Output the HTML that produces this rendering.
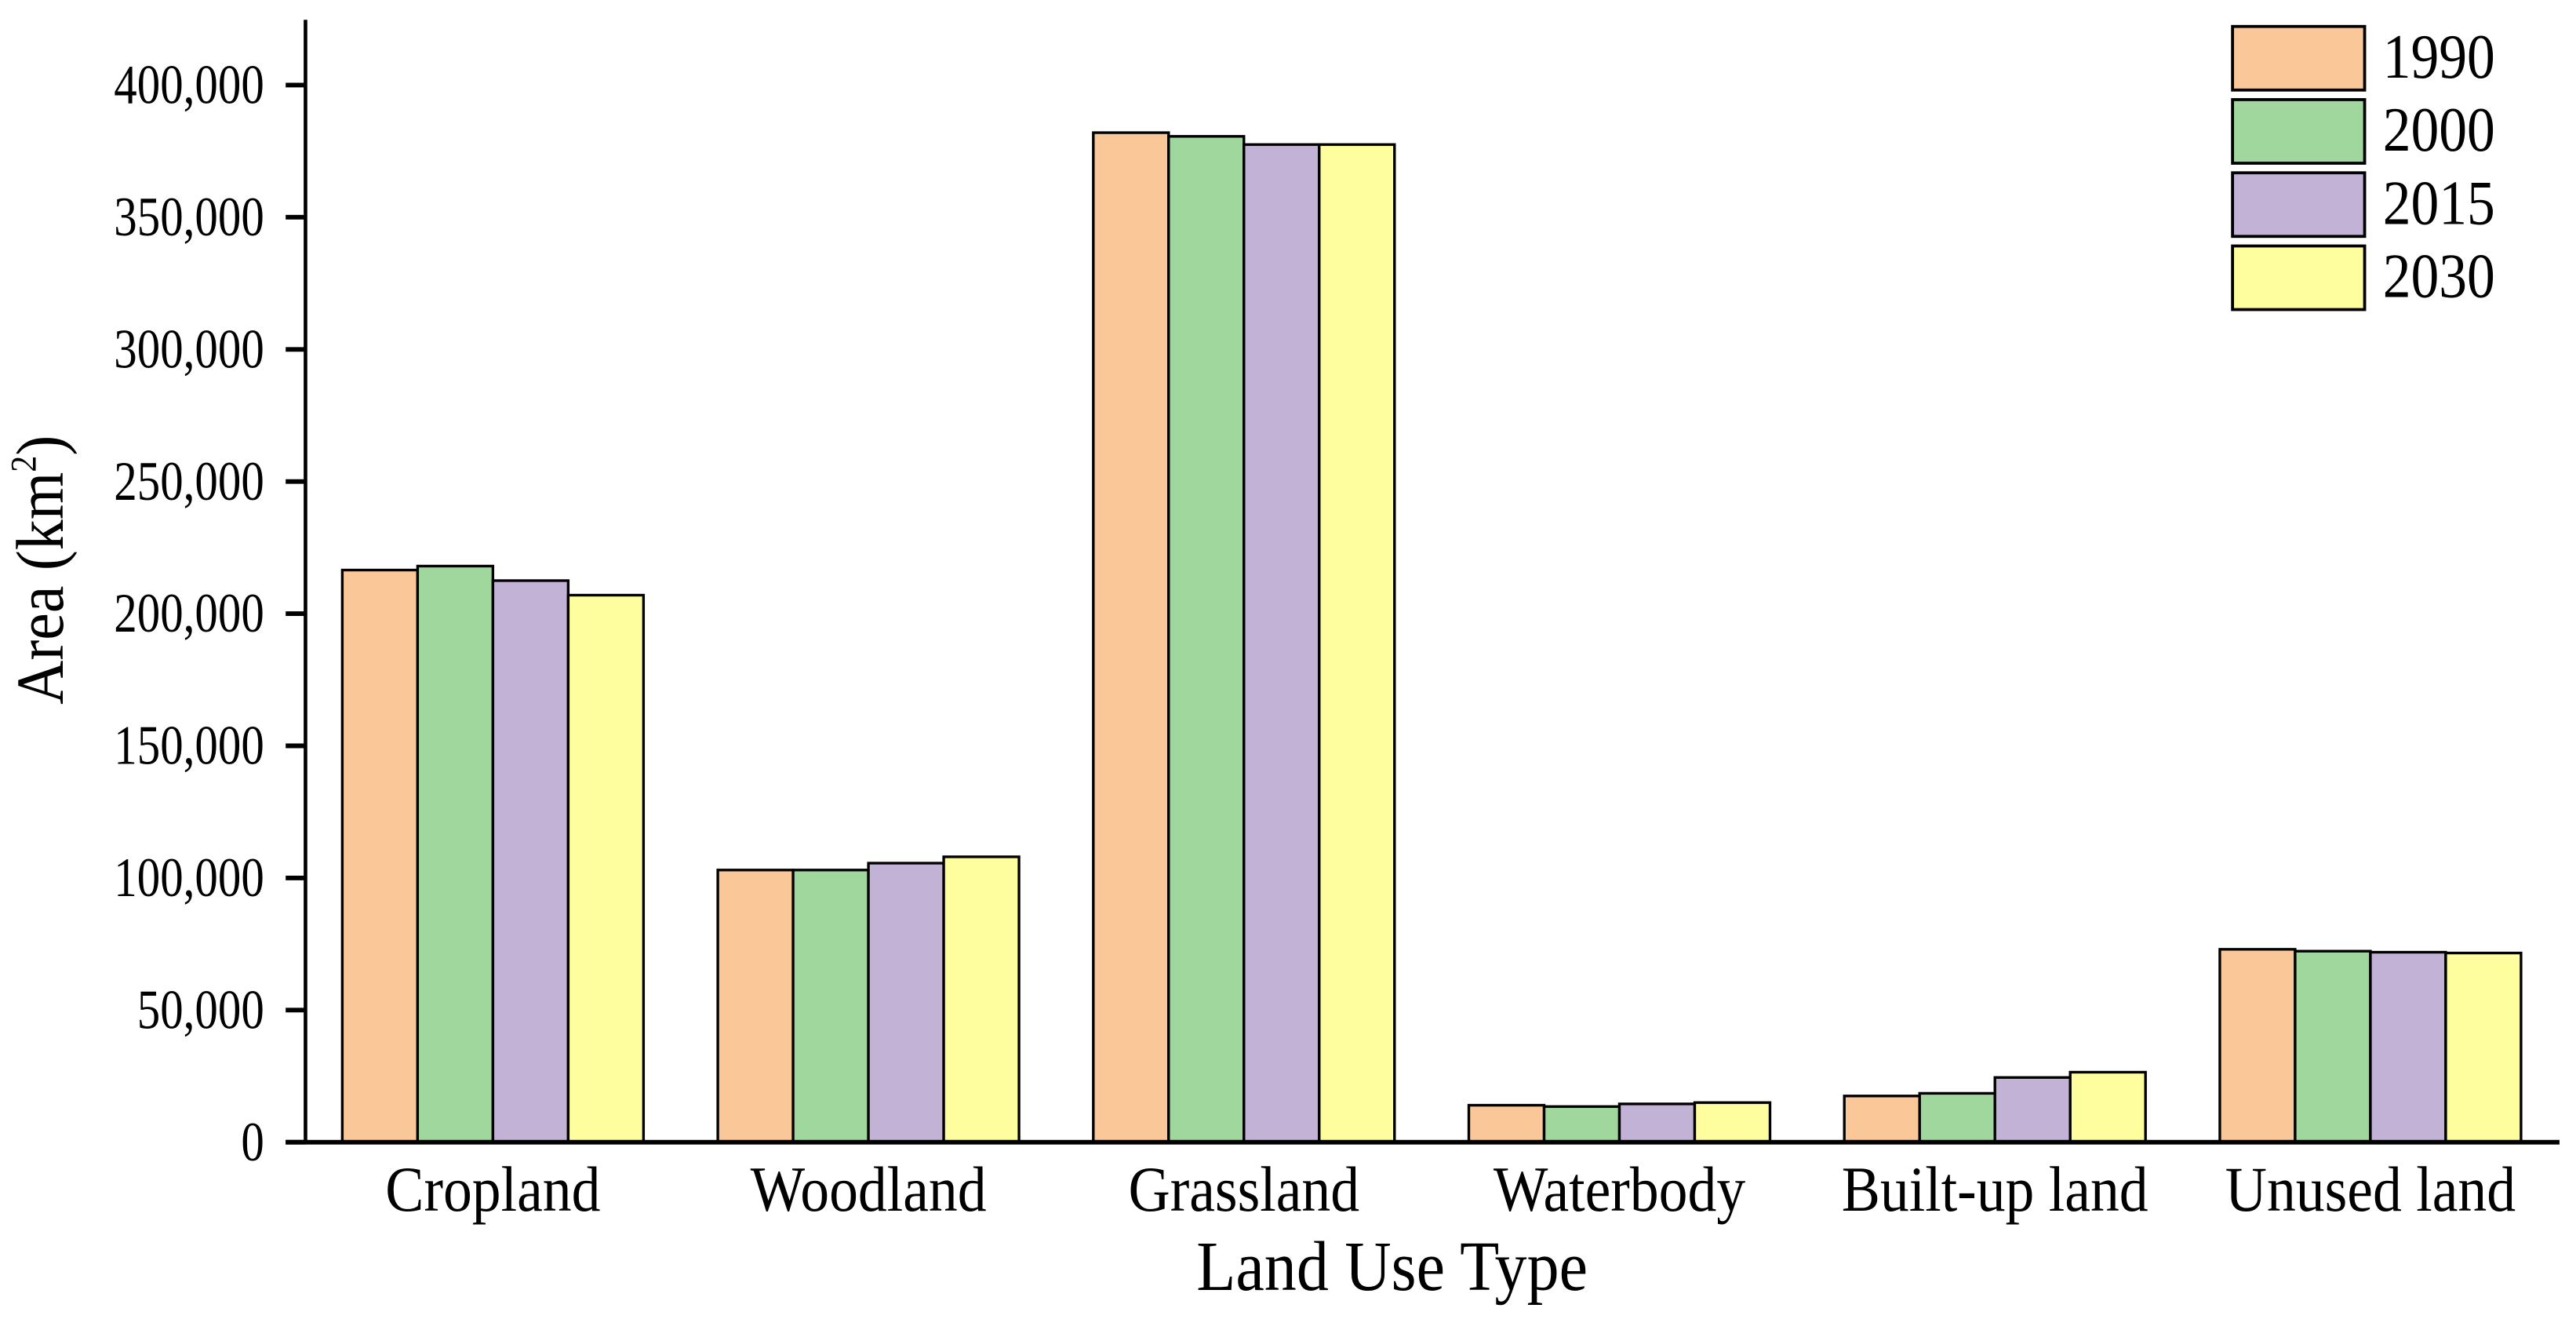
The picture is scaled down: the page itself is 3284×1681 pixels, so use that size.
<!DOCTYPE html>
<html><head><meta charset="utf-8"><style>
html,body{margin:0;padding:0;background:#fff;}
svg{display:block;font-family:"Liberation Serif",serif;}
</style></head><body>
<svg id="chart" width="3284" height="1681" viewBox="0 0 1560 798.5" xmlns="http://www.w3.org/2000/svg"></svg>
<script>
const categories = ["Cropland","Woodland","Grassland","Waterbody","Built-up land","Unused land"];
const seriesNames = ["1990","2000","2015","2030"];
const s1990 = [216500,103000,382000,14000,17500,73000];
const s2000 = [218000,103000,380600,13500,18500,72300];
const s2015 = [212500,105600,377500,14500,24500,71900];
const s2030 = [207000,108000,377500,15000,26500,71600];
const yTicks = [0,50000,100000,150000,200000,250000,300000,350000,400000];
const tickLabels = ["0","50,000","100,000","150,000","200,000","250,000","300,000","350,000","400,000"];
const colors = ["#FAC898","#9FD79C","#C2B2D6","#FEFE9F"];
const series = [s1990,s2000,s2015,s2030];

const NS="http://www.w3.org/2000/svg";
const svg=document.getElementById('chart');
const X0=185, X1=1550, Y0=691.5, YTOP=12;
const band=227.4, firstC=298.5;
const yScale=v=>Y0-v/625;
const xCenter=i=>firstC+band*i;
const barW=45.6;
function el(t,a,p){const e=document.createElementNS(NS,t);for(const k in a)e.setAttribute(k,a[k]);(p||svg).appendChild(e);return e;}
function stext(x,y,sy,anchor,size,txt){
  const t=el('text',{transform:`translate(${x},${y}) scale(1,${sy})`,'text-anchor':anchor,'font-size':size});
  t.textContent=txt;return t;
}

series.forEach((s,si)=>{
  s.forEach((v,ci)=>{
    const x=xCenter(ci)-2*barW+si*barW;
    const r=el('rect',{x:x,y:yScale(v),width:barW,height:Y0-yScale(v),fill:colors[si],stroke:'#000','stroke-width':1.6});
    
    
  });
});
const ya=el('line',{x1:X0,y1:YTOP,x2:X0,y2:Y0+1,stroke:'#000','stroke-width':2.2});


const xa=el('line',{x1:X0-12,y1:Y0,x2:X1,y2:Y0,stroke:'#000','stroke-width':2.8});


yTicks.forEach((t,i)=>{
  const y=yScale(t);
  const tk=el('line',{x1:X0-12,y1:y,x2:X0,y2:y,stroke:'#000','stroke-width':2.8});
  
  
  const tx=stext(X0-25,y+11,1.2,'end',28,tickLabels[i]);
  
  
});
categories.forEach((c,i)=>{
  const tx=stext(xCenter(i),733,1.1,'middle',35,c);
  
  
});
const xt=stext(843,781,1.1,'middle',39,'Land Use Type');


const yt=el('text',{transform:'translate(38,345) rotate(-90) scale(1,1.1)','text-anchor':'middle','font-size':37});
yt.innerHTML='Area (km<tspan font-size="20" dy="-15">2</tspan><tspan dy="15">)</tspan>';


seriesNames.forEach((n,i)=>{
  const y=16+i*44.3;
  const r=el('rect',{x:1352,y:y,width:80,height:38.5,fill:colors[i],stroke:'#000','stroke-width':1.8});
  
  
  const t=stext(1443,y+31,1.12,'start',34,n);
  
  
});
</script>
</body></html>
